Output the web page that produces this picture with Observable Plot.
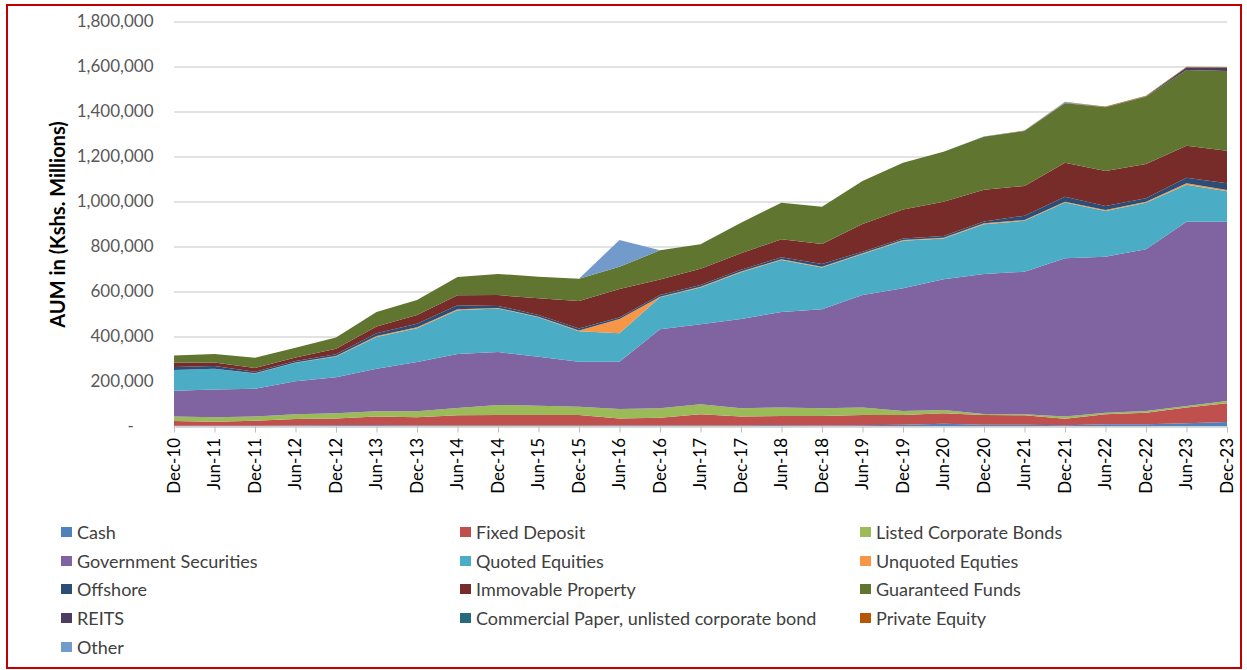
<!DOCTYPE html>
<html>
<head>
<meta charset="utf-8">
<script src="https://cdn.jsdelivr.net/npm/d3@7"></script>
<script src="https://cdn.jsdelivr.net/npm/@observablehq/plot@0.6"></script>
<style>
  html, body { margin: 0; padding: 0; background: #fff; }
  #wrap { position: relative; width: 1247px; height: 670px; overflow: hidden; font-family: Lato, "Open Sans", sans-serif; }
  #frame { position: absolute; left: 6px; top: 4px; width: 1232px; height: 661px; border: 2px solid #c00000; pointer-events: none; }
  #chart { position: absolute; left: 0; top: 0; }
  #chart svg [aria-label="y-axis label"] text { font-weight: bold; fill: #000; font-size: 20px; }
  .leg { position: absolute; font-size: 18px; color: #404040; white-space: nowrap; line-height: 20px; }
  .sw { position: absolute; width: 11px; height: 10px; top: 5px; left: -16px; }
</style>
</head>
<body>
<div id="wrap">
  <div id="chart"></div>
  <div id="legend"></div>
  <div id="frame"></div>
</div>
<script>
const periods = ["Dec-10","Jun-11","Dec-11","Jun-12","Dec-12","Jun-13","Dec-13","Jun-14","Dec-14","Jun-15","Dec-15","Jun-16","Dec-16","Jun-17","Dec-17","Jun-18","Dec-18","Jun-19","Dec-19","Jun-20","Dec-20","Jun-21","Dec-21","Jun-22","Dec-22","Jun-23","Dec-23"];

const seriesNames = ["Cash","Fixed Deposit","Listed Corporate Bonds","Government Securities","Quoted Equities","Unquoted Equties","Offshore","Immovable Property","Guaranteed Funds","REITS","Commercial Paper, unlisted corporate bond","Private Equity","Other"];
const seriesColors = ["#4F81BD","#C0504D","#9BBB59","#8064A2","#4BACC6","#F79646","#2C4D75","#772C2A","#5F7530","#4D3B62","#276A7C","#B65708","#729ACA"];

const cash          = [3000,3000,3000,4000,6000,6000,4000,5000,4000,4000,4000,5000,5000,5000,5000,6000,5000,6000,8000,12000,8000,8000,6000,10000,10000,15000,20000];
const fixedDeposit  = [21000,18000,23000,29000,30000,38000,37000,45000,47000,47000,47000,31000,34000,49000,39000,41000,42000,45000,43000,47000,43000,42000,29000,44000,51000,69000,83000];
const listedBonds   = [21000,20000,19000,21000,23000,24000,27000,32000,45000,41000,37000,42000,42000,45000,37000,38000,34000,34000,18000,14000,5000,4000,9000,7000,8000,7000,10000];
const govSecurities = [114000,124000,123000,147000,160000,189000,219000,240000,235000,218000,200000,210000,351000,355000,397000,424000,440000,499000,545000,581000,622000,634000,704000,694000,719000,819000,797000];
const quotedEquities= [92000,92000,68000,82000,92000,141000,150000,195000,194000,176000,135000,126000,142000,164000,208000,231000,186000,183000,212000,182000,221000,226000,248000,203000,207000,165000,136000];
const unquotedEq    = [0,0,1000,2000,2000,4000,4000,4000,2000,2000,4000,64000,3000,3000,3000,3000,3000,3000,3000,3000,4000,4000,3000,4000,4000,6000,5000];
const offshore      = [13000,12000,6000,6000,8000,12000,16000,18000,9000,8000,9000,6000,7000,8000,8000,9000,12000,7000,7000,8000,8000,19000,22000,18000,15000,25000,30000];
const immovable     = [20000,16000,17000,16000,25000,30000,39000,44000,48000,74000,122000,127000,69000,72000,73000,80000,89000,123000,129000,152000,141000,132000,151000,156000,153000,142000,145000];
const guaranteed    = [32000,37000,46000,43000,50000,65000,66000,82000,94000,96000,99000,99000,130000,109000,136000,163000,166000,191000,207000,222000,236000,244000,265000,283000,299000,336000,354000];
const reits         = [0,0,0,0,0,0,0,0,0,0,0,0,0,0,0,0,0,0,0,0,0,0,0,0,1000,12000,15000];
const commPaper     = [0,0,0,0,0,0,0,0,0,0,0,0,0,0,0,0,0,0,0,0,1000,1000,1000,1000,1000,1000,1000];
const privateEquity = [0,0,0,0,0,0,0,0,0,0,0,0,0,0,0,0,0,0,0,0,0,2000,2000,2000,2000,2000,2000];
const other         = [0,0,0,0,0,0,0,0,0,0,0,119000,0,0,0,0,0,0,0,0,0,0,3000,0,0,0,0];

const yTicks = [0,200000,400000,600000,800000,1000000,1200000,1400000,1600000,1800000];
const yTitle = "AUM in (Kshs. Millions)";

const seriesValues = [cash,fixedDeposit,listedBonds,govSecurities,quotedEquities,unquotedEq,offshore,immovable,guaranteed,reits,commPaper,privateEquity,other];

const rows = [];
seriesNames.forEach((name, s) => {
  periods.forEach((p, i) => rows.push({series: name, i, value: seriesValues[s][i]}));
});
const idx = periods.map((_, i) => i);
const fmt = d3.format(",");

const chart = Plot.plot({
  width: 1247,
  height: 510,
  marginLeft: 174,
  marginRight: 20,
  marginTop: 21.5,
  marginBottom: 83.5,
  style: {fontFamily: "Lato, 'Open Sans', sans-serif", fontSize: "17px", background: "transparent"},
  x: {type: "linear", domain: [0, periods.length - 1]},
  y: {domain: [0, 1800000]},
  color: {domain: seriesNames, range: seriesColors},
  marks: [
    Plot.gridY(yTicks, {stroke: "#d9d9d9", strokeOpacity: 1, strokeWidth: 1.5}),
    Plot.areaY(rows, {x: "i", y: "value", fill: "series", order: null}),
    Plot.ruleY([0], {stroke: "#d9d9d9", strokeWidth: 1.5}),
    Plot.axisY({ticks: yTicks, tickSize: 0, tickPadding: 21, color: "#595959", fontSize: 17,
      tickFormat: d => d === 0 ? "-\u2007\u2007" : fmt(d),
      label: yTitle, labelAnchor: "center", labelArrow: "none", labelOffset: 124}),
    Plot.axisX({ticks: idx, tickSize: 6, color: "#bfbfbf", tickFormat: () => "", label: null}),
    Plot.axisX({ticks: idx, tickSize: 0, tickPadding: 11, tickRotate: -90, color: "#000", fontSize: 17,
      tickFormat: i => periods[i], label: null})
  ]
});
document.getElementById("chart").appendChild(chart);

// legend (3 columns, row-major like the reference)
const colText = [77, 476, 876];
const rowY = [522, 550.5, 579, 608, 637];
const legend = document.getElementById("legend");
seriesNames.forEach((name, k) => {
  const c = k % 3, r = Math.floor(k / 3);
  const d = document.createElement("div");
  d.className = "leg";
  d.style.left = colText[c] + "px";
  d.style.top = rowY[r] + "px";
  const sw = document.createElement("span");
  sw.className = "sw";
  sw.style.background = seriesColors[k];
  d.appendChild(sw);
  d.appendChild(document.createTextNode(name));
  legend.appendChild(d);
});
</script>
</body>
</html>
